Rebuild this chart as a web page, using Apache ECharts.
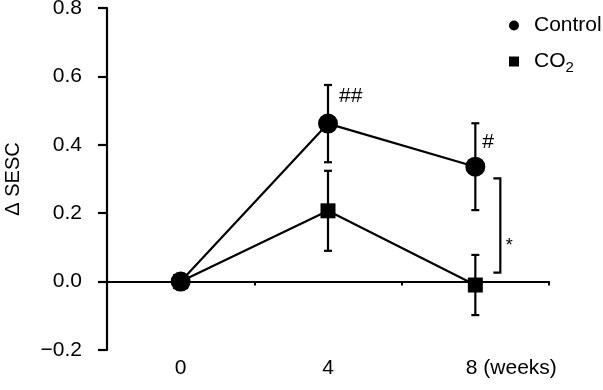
<!DOCTYPE html>
<html>
<head>
<meta charset="utf-8">
<script src="https://cdn.jsdelivr.net/npm/echarts@6/dist/echarts.min.js"></script>
<style>html,body{margin:0;padding:0;background:#fff}#c{width:603px;height:390px}</style>
</head>
<body>
<div id="c"></div>
<script>
var categories = ['0', '4', '8'];
var controlMean = [0, 0.462, 0.336];
var controlErr = [0, 0.113, 0.127];
var co2Mean = [0, 0.207, -0.010];
var co2Err = [0, 0.117, 0.088];
var yTicks = [-0.2, 0.0, 0.2, 0.4, 0.6, 0.8];
var annotations = ['', '##', '#'];
var bracket = {cat: 2, top: 0.302, bottom: 0.026, star: 0.113, text: '*'};

var FONT = "'Liberation Sans', Arial, sans-serif";
var FS = 21;
var chart = echarts.init(document.getElementById('c'), null, {renderer: 'canvas'});

function errData(mean, err) {
  return mean.map(function (m, i) { return [i, m - err[i], m + err[i]]; });
}
function errRender(params, api) {
  var x = api.value(0);
  var lo = api.coord([x, api.value(1)]);
  var hi = api.coord([x, api.value(2)]);
  if (Math.abs(lo[1] - hi[1]) < 1) return null;
  var w = 4;
  var st = {stroke: '#000', lineWidth: 2.2};
  return {type: 'group', children: [
    {type: 'line', shape: {x1: lo[0], y1: lo[1], x2: hi[0], y2: hi[1]}, style: st},
    {type: 'line', shape: {x1: lo[0] - w, y1: lo[1], x2: lo[0] + w, y2: lo[1]}, style: st},
    {type: 'line', shape: {x1: hi[0] - w, y1: hi[1], x2: hi[0] + w, y2: hi[1]}, style: st}
  ]};
}

chart.setOption({
  animation: false,
  grid: {left: 107, right: 54, top: 8, bottom: 40, containLabel: false, outerBoundsMode: 'none'},
  legend: {
    orient: 'vertical', left: 504, top: 10, itemGap: 15,
    itemWidth: 10, itemHeight: 10,
    data: [{name: 'Control', icon: 'circle'}, {name: 'CO2', icon: 'rect'}],
    formatter: function (n) { return n === 'CO2' ? '{a|CO}{s|2}' : '{a|' + n + '}'; },
    textStyle: {
      color: '#000', fontFamily: FONT, fontSize: FS, padding: [0, 0, 0, 10],
      rich: {
        a: {fontFamily: FONT, fontSize: FS, color: '#000'},
        s: {fontFamily: FONT, fontSize: 15, color: '#000', padding: [12, 0, 0, 0]}
      }
    }
  },
  xAxis: {
    type: 'category', data: categories, boundaryGap: true,
    axisLine: {onZero: true, lineStyle: {color: '#000', width: 2.2}},
    axisTick: {show: true, length: 4, lineStyle: {color: '#000', width: 2}},
    axisLabel: {
      color: '#000', fontFamily: FONT, fontSize: FS, margin: 8, interval: 0, hideOverlap: false,
      formatter: function (v) { return v === '8' ? '{w|8 (weeks)}' : v; },
      rich: {w: {fontFamily: FONT, fontSize: FS, color: '#000', padding: [0, 0, 0, 72]}}
    },
    splitLine: {show: false}
  },
  yAxis: {
    type: 'value', min: -0.2, max: 0.8, interval: 0.2,
    name: '\u0394 SESC', nameLocation: 'middle', nameGap: 84, nameRotate: 90,
    nameTextStyle: {color: '#000', fontFamily: FONT, fontSize: 20},
    axisLine: {show: true, lineStyle: {color: '#000', width: 2.2}},
    axisTick: {show: true, length: 9, lineStyle: {color: '#000', width: 2.2}},
    axisLabel: {
      color: '#000', fontFamily: FONT, fontSize: FS, margin: 25,
      formatter: function (v) { return (v < 0 ? '\u2212' : '') + Math.abs(v).toFixed(1); }
    },
    splitLine: {show: false}
  },
  series: [
    {type: 'custom', name: 'errCO2', renderItem: errRender, data: errData(co2Mean, co2Err), z: 3, silent: true},
    {type: 'custom', name: 'errCtrl', renderItem: errRender, data: errData(controlMean, controlErr), z: 3, silent: true},
    {
      type: 'line', name: 'CO2', data: co2Mean, symbol: 'rect', symbolSize: 15,
      itemStyle: {color: '#000'}, lineStyle: {color: '#000', width: 2.2}, z: 4
    },
    {
      type: 'line', name: 'Control', symbol: 'circle', symbolSize: 20,
      itemStyle: {color: '#000'}, lineStyle: {color: '#000', width: 2.2}, z: 5,
      data: controlMean.map(function (v, i) {
        var d = {value: v};
        if (annotations[i]) {
          d.label = {show: true, formatter: annotations[i], position: i === 1 ? [21, -17] : [17, -14],
            verticalAlign: 'middle', align: 'left', color: '#000', fontFamily: FONT, fontSize: FS};
        }
        return d;
      })
    },
    {
      type: 'custom', name: 'bracket', silent: true, z: 3,
      data: [[bracket.cat, bracket.bottom, bracket.top, bracket.star]],
      renderItem: function (params, api) {
        var b = api.coord([api.value(0), api.value(1)]);
        var t = api.coord([api.value(0), api.value(2)]);
        var s = api.coord([api.value(0), api.value(3)]);
        var x = b[0] + 25;
        var st = {stroke: '#000', lineWidth: 2.2, fill: null};
        return {type: 'group', children: [
          {type: 'polyline', shape: {points: [[x - 7, t[1]], [x, t[1]], [x, b[1]], [x - 7, b[1]]]}, style: st},
          {type: 'text', style: {x: x + 9, y: s[1] + 3, text: bracket.text, fill: '#000', font: '18px ' + FONT, align: 'center', verticalAlign: 'middle'}}
        ]};
      }
    }
  ]
});
</script>
</body>
</html>
